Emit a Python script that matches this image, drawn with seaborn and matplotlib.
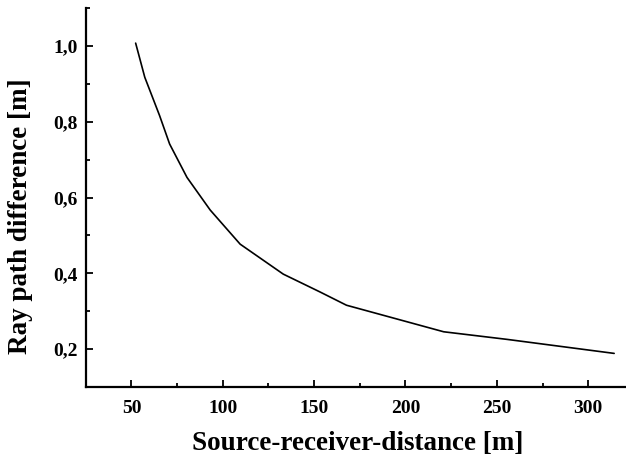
import numpy as np
import matplotlib
matplotlib.use("Agg")
import matplotlib.pyplot as plt
from matplotlib.ticker import MultipleLocator, FuncFormatter
import seaborn as sns
import pandas as pd

# values
distance = [52.3, 57.3, 65.4, 70.9, 80.4, 93.1, 109.5, 133.1, 153.2, 167.7, 220.9, 255.5, 314.2]
path_diff = [1.007, 0.917, 0.816, 0.741, 0.653, 0.567, 0.477, 0.398, 0.351, 0.316, 0.246, 0.226, 0.189]

x_ticks = [50, 100, 150, 200, 250, 300]
y_ticks = [0.2, 0.4, 0.6, 0.8, 1.0]

df = pd.DataFrame({"dist": distance, "diff": path_diff})

sns.set_style("ticks", {"axes.edgecolor": "black", "text.color": "black",
                        "xtick.color": "black", "ytick.color": "black",
                        "axes.labelcolor": "black"})
plt.rcParams['font.family'] = ['Liberation Serif', 'DejaVu Serif']
plt.rcParams['font.weight'] = 'bold'

fig = plt.figure(figsize=(6.26, 4.62), dpi=100)
ax = fig.add_axes([0.137, 0.162, 0.861, 0.821])

sns.lineplot(data=df, x="dist", y="diff", color="black", linewidth=1.2, ax=ax)

ax.set_xlim(25, 320)
ax.set_ylim(0.1, 1.1)
ax.set_xticks(x_ticks)
ax.set_yticks(y_ticks)
ax.xaxis.set_minor_locator(MultipleLocator(25))
ax.yaxis.set_minor_locator(MultipleLocator(0.1))
ax.yaxis.set_major_formatter(FuncFormatter(lambda v, p: f"{v:.1f}".replace(".", ",")))

ax.tick_params(which="both", direction="in", width=1.3, labelsize=14, colors="black")
ax.tick_params(which="major", length=5)
ax.tick_params(which="minor", length=3)
ax.tick_params(axis="x", which="major", pad=9)
ax.tick_params(axis="y", which="major", pad=6)
for lab in ax.get_xticklabels() + ax.get_yticklabels():
    lab.set_fontweight("bold")

sns.despine(ax=ax, top=True, right=True)
ax.spines["left"].set_linewidth(1.6)
ax.spines["bottom"].set_linewidth(1.6)

ax.set_xlabel("Source-receiver-distance [m]", fontsize=19.5, fontweight="bold", color="black")
ax.set_ylabel("Ray path difference [m]", fontsize=19.5, fontweight="bold", color="black")
ax.xaxis.set_label_coords(0.505, -0.115)
ax.yaxis.set_label_coords(-0.098, 0.451)

fig.savefig("out.png", dpi=100)
